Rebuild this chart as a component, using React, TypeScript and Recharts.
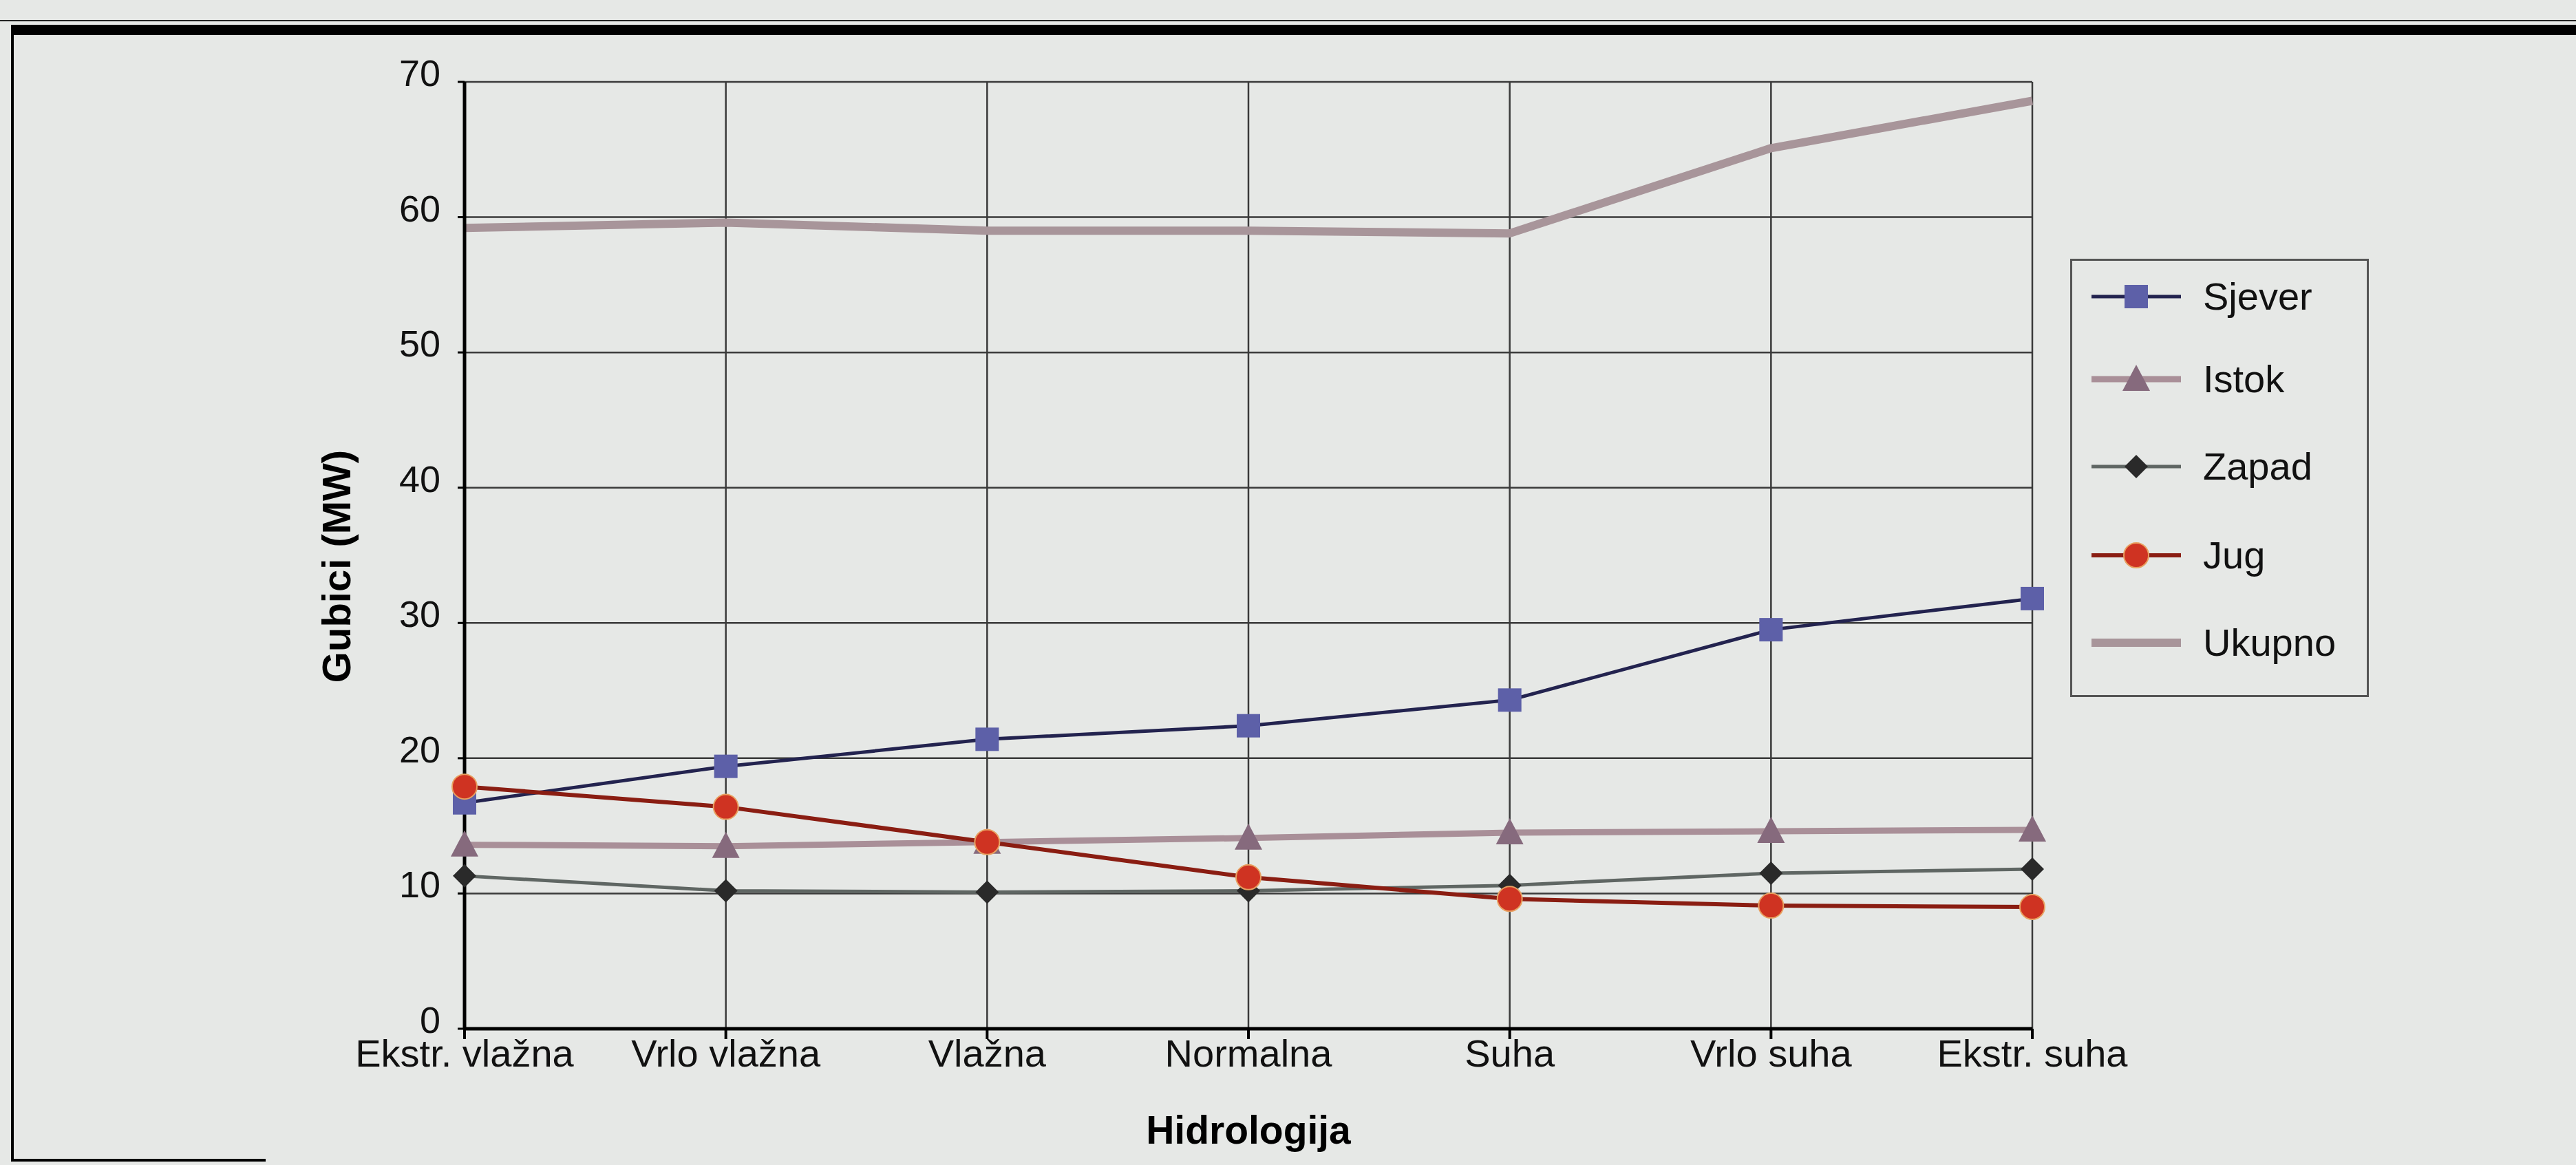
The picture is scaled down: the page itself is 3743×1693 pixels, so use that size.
import { LineChart, Line, XAxis, YAxis, CartesianGrid, Label } from "recharts";

const categories = ["Ekstr. vlažna", "Vrlo vlažna", "Vlažna", "Normalna", "Suha", "Vrlo suha", "Ekstr. suha"];
const sjever = [16.7, 19.4, 21.4, 22.4, 24.3, 29.5, 31.8];
const istok = [13.6, 13.5, 13.8, 14.1, 14.5, 14.6, 14.7];
const zapad = [11.3, 10.2, 10.1, 10.2, 10.6, 11.5, 11.8];
const jug = [17.9, 16.4, 13.8, 11.2, 9.6, 9.1, 9.0];
const ukupno = [59.2, 59.6, 59.0, 59.0, 58.8, 65.1, 68.6];
const yTicks = [0, 10, 20, 30, 40, 50, 60, 70];

const FONT = "'Liberation Sans', Arial, sans-serif";
const BG = "#e6e8e6";

type Shape = "square" | "triangle" | "diamond" | "circle" | "none";

const series: Array<{ key: string; name: string; stroke: string; width: number; fill: string; shape: Shape }> = [
  { key: "sjever", name: "Sjever", stroke: "#23234f", width: 5, fill: "#5d60a8", shape: "square" },
  { key: "istok", name: "Istok", stroke: "#a98f98", width: 9, fill: "#866a7d", shape: "triangle" },
  { key: "zapad", name: "Zapad", stroke: "#5f6663", width: 5, fill: "#2a2a2a", shape: "diamond" },
  { key: "jug", name: "Jug", stroke: "#8a1d12", width: 6, fill: "#cf3322", shape: "circle" },
  { key: "ukupno", name: "Ukupno", stroke: "#a8959a", width: 12, fill: "none", shape: "none" },
];

const data = categories.map((c, i) => ({
  name: c,
  sjever: sjever[i],
  istok: istok[i],
  zapad: zapad[i],
  jug: jug[i],
  ukupno: ukupno[i],
}));

function Marker({ shape, cx, cy, fill }: { shape: Shape; cx: number; cy: number; fill: string }) {
  if (shape === "square") return <rect x={cx - 17} y={cy - 17} width={34} height={34} fill={fill} />;
  if (shape === "triangle")
    return <polygon points={`${cx},${cy - 21} ${cx + 20},${cy + 17} ${cx - 20},${cy + 17}`} fill={fill} />;
  if (shape === "diamond")
    return <polygon points={`${cx},${cy - 17} ${cx + 17},${cy} ${cx},${cy + 17} ${cx - 17},${cy}`} fill={fill} />;
  if (shape === "circle") return <circle cx={cx} cy={cy} r={18} fill={fill} stroke="#e8a060" strokeWidth={2} />;
  return null;
}

function XTick({ x, y, payload }: any) {
  return (
    <text x={x} y={y + 40} textAnchor="middle" fontSize={56} fill="#111" fontFamily={FONT}>
      {payload.value}
    </text>
  );
}

function YTick({ x, y, payload }: any) {
  return (
    <text x={x} y={y + 6} textAnchor="end" fontSize={54} fill="#111" fontFamily={FONT}>
      {payload.value}
    </text>
  );
}

function LegendBox() {
  const rows = [52, 172, 299, 428, 555];
  return (
    <div
      style={{
        position: "absolute",
        left: 3008,
        top: 376,
        width: 434,
        height: 637,
        border: "3px solid #555",
        boxSizing: "border-box",
        fontFamily: FONT,
      }}
    >
      {series.map((s, i) => (
        <div key={s.key} style={{ position: "absolute", left: 0, top: rows[i] - 40, height: 80, width: "100%" }}>
          <svg width={140} height={80} style={{ position: "absolute", left: 28, top: 0 }}>
            <line x1={0} x2={130} y1={40} y2={40} stroke={s.stroke} strokeWidth={s.width} />
            <Marker shape={s.shape} cx={65} cy={40} fill={s.fill} />
          </svg>
          <div style={{ position: "absolute", left: 190, top: 0, lineHeight: "80px", fontSize: 56, color: "#111" }}>
            {s.name}
          </div>
        </div>
      ))}
    </div>
  );
}

export default function App() {
  return (
    <div style={{ position: "fixed", left: 0, top: 0, width: 3743, height: 1693, background: BG, overflow: "hidden" }}>
      {/* scanned page frame */}
      <div style={{ position: "absolute", left: 0, top: 29, width: 3743, height: 2, background: "#222" }} />
      <div style={{ position: "absolute", left: 16, top: 36, width: 3727, height: 15, background: "#000" }} />
      <div style={{ position: "absolute", left: 16, top: 36, width: 4, height: 1652, background: "#000" }} />
      <div style={{ position: "absolute", left: 16, top: 1684, width: 370, height: 4, background: "#000" }} />

      <LineChart width={3743} height={1693} data={data} margin={{ top: 119, right: 790, bottom: 31, left: 475 }}>
        <CartesianGrid stroke="#3a3a3a" strokeWidth={2.5} />
        <XAxis
          dataKey="name"
          scale="point"
          height={167}
          interval={0}
          tick={<XTick />}
          tickSize={15}
          tickMargin={0}
          axisLine={{ stroke: "#000", strokeWidth: 5 }}
          tickLine={{ stroke: "#000", strokeWidth: 4 }}
        >
          <Label
            value="Hidrologija"
            position="insideBottom"
            offset={0}
            style={{ fontSize: 57, fontWeight: 700, fill: "#000", fontFamily: FONT }}
          />
        </XAxis>
        <YAxis
          width={200}
          domain={[0, 70]}
          ticks={yTicks}
          tick={<YTick />}
          tickSize={10}
          tickMargin={25}
          axisLine={{ stroke: "#000", strokeWidth: 5 }}
          tickLine={{ stroke: "#000", strokeWidth: 3 }}
        >
          <Label
            content={() => (
              <text
                x={488}
                y={823}
                transform="rotate(-90 488 823)"
                textAnchor="middle"
                dominantBaseline="central"
                fontSize={58}
                fontWeight={700}
                fill="#000"
                fontFamily={FONT}
              >
                Gubici (MW)
              </text>
            )}
          />
        </YAxis>
        {series.map((s) => (
          <Line
            key={s.key}
            dataKey={s.key}
            name={s.name}
            stroke={s.stroke}
            strokeWidth={s.width}
            strokeLinejoin="round"
            isAnimationActive={false}
            activeDot={false}
            dot={
              s.shape === "none"
                ? false
                : (p: any) => <Marker key={`${s.key}-${p.index}`} shape={s.shape} cx={p.cx} cy={p.cy} fill={s.fill} />
            }
          />
        ))}
      </LineChart>
      <LegendBox />
    </div>
  );
}
